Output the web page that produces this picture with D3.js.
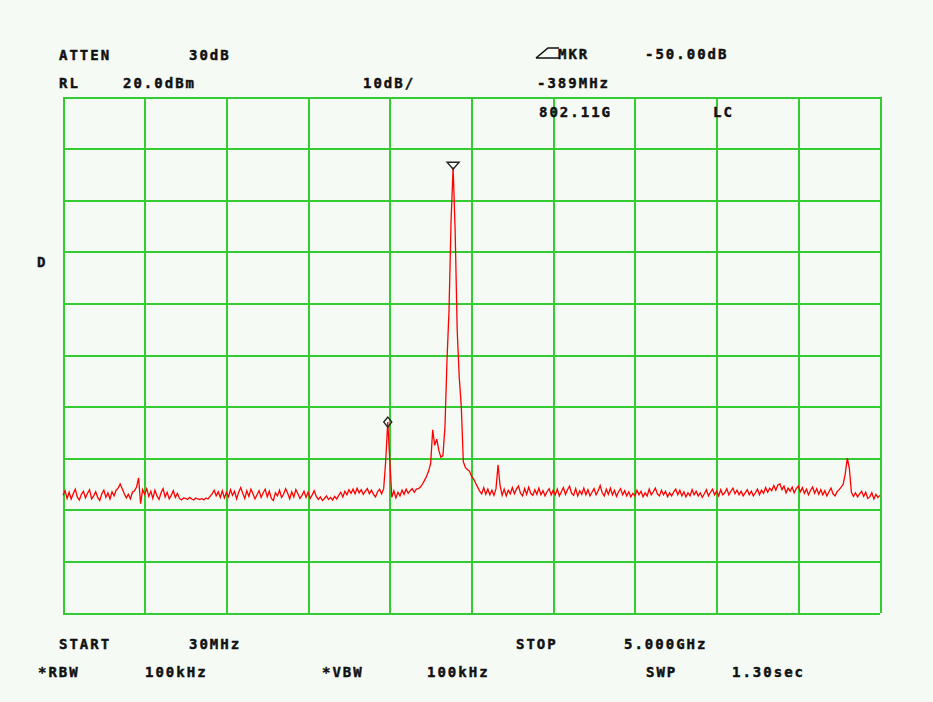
<!DOCTYPE html>
<html>
<head>
<meta charset="utf-8">
<script src="https://cdn.jsdelivr.net/npm/d3@7"></script>
<style>
  html, body { margin: 0; padding: 0; background: #f5faf5; }
  svg { display: block; }
  text { font-family: "DejaVu Sans Mono", monospace; font-weight: bold; font-size: 14px; letter-spacing: 2px; fill: #111; stroke: #111; stroke-width: 0.45px; }
</style>
</head>
<body>
<svg id="chart" width="933" height="702"></svg>
<script>
// ---- instrument settings ----
const startMHz = 30;
const stopMHz = 5000;
const refLevel = 20;      // dBm (top of screen)
const dbPerDiv = 10;
const numDivsX = 10;
const numDivsY = 10;

// ---- trace values (dBm), 401 sweep points from START to STOP ----
const traceDbm = [
  -57.2,-56.3,-57.8,-56.6,-57.9,-56.9,-56.0,-57.5,-58.1,-57.0,-56.4,-57.7,-56.8,-56.1,-57.9,-57.3,-56.5,-57.6,-58.2,-56.9,
  -56.2,-57.6,-56.7,-57.9,-56.5,-57.3,-56.2,-55.8,-55.0,-55.9,-56.9,-57.7,-57.0,-57.9,-56.6,-56.3,-55.6,-53.8,-58.8,-56.1,
  -57.0,-55.9,-57.4,-56.4,-57.8,-56.2,-57.3,-58.0,-56.7,-55.9,-57.5,-56.6,-57.9,-57.2,-56.3,-57.6,-56.8,-57.8,-58.1,-57.7,
  -57.8,-58.0,-57.6,-57.9,-58.1,-57.7,-57.9,-58.0,-57.8,-58.1,-57.7,-57.9,-57.4,-56.9,-56.2,-57.3,-56.5,-57.6,-56.3,-57.7,
  -56.6,-57.5,-56.1,-57.2,-56.4,-57.9,-56.6,-55.7,-56.8,-57.8,-56.3,-57.4,-56.0,-56.9,-57.9,-57.1,-56.3,-57.6,-56.7,-56.0,
  -57.5,-56.4,-57.8,-58.2,-56.7,-57.3,-56.2,-57.6,-57.0,-55.9,-56.8,-57.9,-56.5,-57.5,-56.1,-56.9,-57.8,-57.2,-56.4,-57.6,
  -56.6,-57.8,-57.1,-56.3,-57.4,-58.0,-57.5,-58.2,-57.8,-57.3,-58.0,-57.6,-58.1,-57.4,-57.9,-57.2,-56.6,-57.5,-56.4,-57.1,
  -56.1,-56.8,-56.0,-56.9,-55.8,-56.7,-56.1,-57.0,-56.4,-55.9,-56.9,-56.2,-57.0,-57.5,-56.5,-56.0,-56.9,-55.9,-50.5,-43.0,
  -50.3,-57.6,-56.3,-57.7,-56.6,-57.3,-56.2,-57.0,-56.0,-56.8,-56.3,-55.9,-56.6,-56.0,-55.9,-55.6,-55.0,-54.3,-53.5,-52.5,
  -51.0,-44.5,-47.5,-46.3,-48.5,-49.8,-49.5,-44.0,-31.0,-21.3,-4.0,6.4,-6.0,-25.2,-34.3,-40.0,-50.7,-51.8,-52.2,-52.5,
  -53.5,-54.0,-54.8,-55.6,-56.4,-56.9,-55.7,-57.0,-56.0,-57.1,-56.2,-57.2,-55.9,-51.3,-55.3,-57.2,-56.0,-57.3,-56.2,-56.9,
  -55.7,-56.9,-56.0,-55.4,-56.8,-57.3,-55.9,-57.0,-55.6,-56.8,-57.2,-56.1,-57.0,-55.8,-57.1,-56.3,-57.3,-56.5,-55.9,-57.1,
  -56.2,-57.1,-56.0,-57.3,-56.5,-55.7,-57.0,-56.1,-55.4,-56.8,-57.2,-55.9,-57.3,-56.3,-57.0,-55.8,-57.1,-56.1,-57.3,-56.6,
  -55.9,-57.1,-56.3,-55.3,-56.7,-57.3,-56.0,-57.0,-55.8,-57.1,-56.2,-57.4,-56.5,-55.9,-57.1,-56.3,-57.3,-56.5,-57.5,-56.8,
  -57.3,-56.2,-57.1,-56.4,-57.5,-56.7,-57.3,-56.0,-57.1,-56.5,-55.8,-56.9,-57.3,-56.2,-57.1,-56.4,-57.5,-56.7,-57.3,-56.5,
  -56.0,-57.1,-56.2,-57.3,-56.5,-57.5,-56.7,-57.3,-56.1,-57.1,-56.4,-57.3,-56.7,-57.6,-56.9,-56.1,-57.3,-56.6,-56.0,-57.1,
  -56.4,-57.3,-56.1,-57.1,-56.7,-55.9,-57.1,-56.4,-55.8,-56.9,-56.2,-57.1,-56.4,-57.3,-56.7,-56.1,-57.1,-56.4,-57.3,-56.7,
  -56.0,-57.1,-56.2,-56.8,-55.7,-56.6,-55.8,-56.3,-55.3,-56.2,-55.2,-55.0,-56.1,-55.4,-56.7,-55.8,-56.4,-55.6,-56.7,-55.9,
  -55.4,-56.5,-55.7,-56.8,-56.0,-57.1,-56.2,-55.6,-56.8,-55.9,-57.0,-56.1,-57.1,-56.3,-57.3,-56.5,-55.8,-56.9,-57.3,-56.5,
  -56.1,-55.6,-55.0,-53.0,-50.0,-52.0,-56.6,-57.4,-56.7,-57.5,-56.9,-56.4,-57.4,-56.6,-57.8,-57.5,-56.7,-57.9,-57.0,-57.6,
  -57.2
];

// marker indices into the trace
const deltaMarkerIndex = 159;
const mainMarkerIndex = 191;

// ---- annotation texts ----
const topLabels = [
  { t: "ATTEN", x: 59, y: 60 }, { t: "30dB", x: 189, y: 60 },
  { t: "MKR", x: 558, y: 59 }, { t: "-50.00dB", x: 645, y: 59 },
  { t: "RL", x: 59, y: 88 }, { t: "20.0dBm", x: 123, y: 88 },
  { t: "10dB/", x: 363, y: 88 }, { t: "-389MHz", x: 537, y: 88 },
  { t: "802.11G", x: 539, y: 117 }, { t: "LC", x: 713, y: 117 },
  { t: "D", x: 37, y: 267 }
];
const bottomLabels = [
  { t: "START", x: 59, y: 649 }, { t: "30MHz", x: 189, y: 649 },
  { t: "STOP", x: 516, y: 649 }, { t: "5.000GHz", x: 624, y: 649 },
  { t: "*RBW", x: 38, y: 677 }, { t: "100kHz", x: 145, y: 677 },
  { t: "*VBW", x: 322, y: 677 }, { t: "100kHz", x: 427, y: 677 },
  { t: "SWP", x: 646, y: 677 }, { t: "1.30sec", x: 732, y: 677 }
];

// ---- drawing ----
const svg = d3.select("#chart");
const pLeft = 63, pRight = 880, pTop = 97, pBottom = 613;

const x = d3.scaleLinear().domain([startMHz, stopMHz]).range([pLeft, pRight]);
const y = d3.scaleLinear().domain([refLevel - dbPerDiv * numDivsY, refLevel]).range([pBottom, pTop]);
const idx = d3.scaleLinear().domain([0, traceDbm.length - 1]).range([startMHz, stopMHz]);

const gridColor = "#33cc33";
const xTicks = d3.range(numDivsX + 1).map(i => startMHz + i * (stopMHz - startMHz) / numDivsX);
const yTicks = d3.range(numDivsY + 1).map(i => refLevel - i * dbPerDiv);

const gx = svg.append("g").attr("transform", `translate(0,${pBottom})`)
  .call(d3.axisBottom(x).tickValues(xTicks).tickSize(-(pBottom - pTop)).tickFormat(""));
const gy = svg.append("g").attr("transform", `translate(${pLeft},0)`)
  .call(d3.axisLeft(y).tickValues(yTicks).tickSize(-(pRight - pLeft)).tickFormat(""));
[gx, gy].forEach(g => {
  g.select(".domain").remove();
  g.selectAll(".tick line").attr("stroke", gridColor).attr("stroke-width", 2).attr("shape-rendering", "crispEdges");
});

// trace
const line = d3.line()
  .x((d, i) => x(idx(i)))
  .y(d => y(d))
  .curve(d3.curveLinear);
svg.append("path")
  .datum(traceDbm)
  .attr("fill", "none")
  .attr("stroke", "#ff0000")
  .attr("stroke-width", 1.3)
  .attr("stroke-linejoin", "miter")
  .attr("d", line);

// markers
const mx = x(idx(mainMarkerIndex)), my = y(traceDbm[mainMarkerIndex]);
svg.append("path")
  .attr("d", `M${mx - 6},${my - 5} L${mx + 6},${my - 5} L${mx},${my + 2} Z`)
  .attr("fill", "none").attr("stroke", "#222").attr("stroke-width", 1.4);
const dx = x(idx(deltaMarkerIndex)), dy = y(traceDbm[deltaMarkerIndex]);
svg.append("path")
  .attr("d", `M${dx},${dy - 5} L${dx + 4},${dy} L${dx},${dy + 5} L${dx - 4},${dy} Z`)
  .attr("fill", "none").attr("stroke", "#222").attr("stroke-width", 1.4);

// delta symbol before MKR
svg.append("path")
  .attr("d", "M536,58 L548,48 L559,48 M536,58 L559,58")
  .attr("fill", "none").attr("stroke", "#111").attr("stroke-width", 1.6);

// texts
svg.append("g").selectAll("text").data(topLabels.concat(bottomLabels)).join("text")
  .attr("x", d => d.x).attr("y", d => d.y).text(d => d.t);
</script>
</body>
</html>
